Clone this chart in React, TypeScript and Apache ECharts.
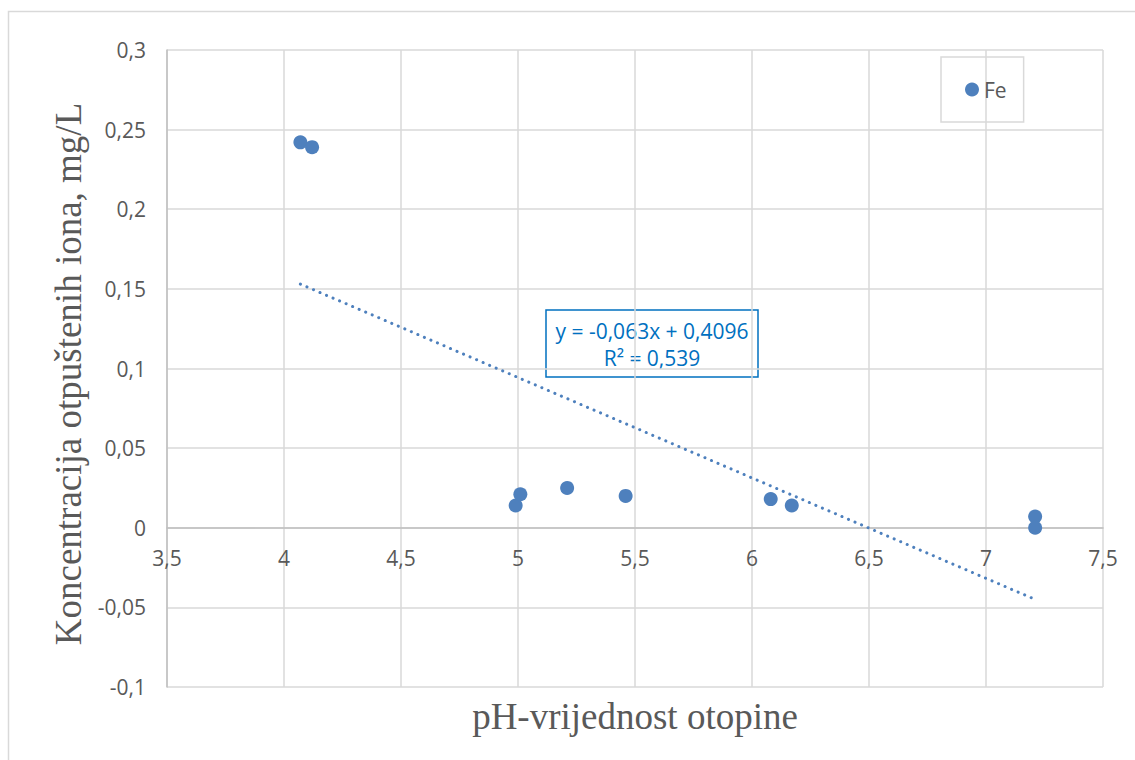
import React, { useEffect, useRef } from "react";
import * as echarts from "echarts";

// pH values and Fe concentrations (mg/L)
const phValues = [4.07, 4.12, 4.99, 5.01, 5.21, 5.46, 6.08, 6.17, 7.21, 7.21];
const feValues = [0.242, 0.239, 0.014, 0.021, 0.025, 0.02, 0.018, 0.014, 0.007, 0.0];
// linear trend line endpoints
const trendX = [4.07, 7.21];
const trendY = [0.153, -0.045];
const equationLines = ["y = -0,063x + 0,4096", "R² = 0,539"];
const seriesName = "Fe";
const xTitle = "pH-vrijednost otopine";
const yTitle = "Koncentracija otpuštenih iona, mg/L";

const Y_MIN = -0.1;
const Y_MAX = 0.3;

const BLUE = "#4E80BD";
const LABEL = "#595959";
const GRID = "#D9D9D9";
const EQ = "#0070C0";

const GRID_TOP = 50;
const GRID_BOTTOM = 73;
const CHART_H = 760;

const fmt = (v: number) => String(+v.toFixed(2)).replace(".", ",");

export default function App() {
  const ref = useRef<HTMLDivElement>(null);
  useEffect(() => {
    if (!ref.current) return;
    const chart = echarts.init(ref.current, null, { renderer: "svg" });
    const plotH = CHART_H - GRID_TOP - GRID_BOTTOM;
    // move the x axis up so that it crosses the y axis at 0
    const zeroOffset = -((0 - Y_MIN) / (Y_MAX - Y_MIN)) * plotH;
    chart.setOption({
      animation: false,
      backgroundColor: "#ffffff",
      grid: { left: 167, right: 32, top: GRID_TOP, bottom: GRID_BOTTOM, containLabel: false, outerBoundsMode: "none" },
      legend: {
        data: [seriesName],
        left: 941,
        top: 57,
        orient: "vertical",
        padding: [22, 17, 22, 24],
        borderColor: GRID,
        borderWidth: 1.5,
        icon: "circle",
        itemWidth: 14,
        itemHeight: 14,
        itemGap: 5,
        textStyle: { color: LABEL, fontSize: 21, fontFamily: "Open Sans" },
      },
      xAxis: {
        type: "value",
        min: 3.5,
        max: 7.5,
        interval: 0.5,
        position: "bottom",
        offset: zeroOffset,
        axisLine: { show: true, onZero: false, lineStyle: { color: "#BFBFBF", width: 1.5 } },
        axisTick: { show: false },
        axisLabel: { color: LABEL, fontSize: 21, fontFamily: "Open Sans", margin: 20, formatter: fmt },
        splitLine: { show: true, lineStyle: { color: GRID, width: 1.5 } },
      },
      yAxis: {
        type: "value",
        min: Y_MIN,
        max: Y_MAX,
        interval: 0.05,
        axisLine: { show: true, onZero: false, lineStyle: { color: "#BFBFBF", width: 1.5 } },
        axisTick: { show: false },
        axisLabel: { color: LABEL, fontSize: 21, fontFamily: "Open Sans", margin: 21, formatter: fmt },
        splitLine: { show: true, lineStyle: { color: GRID, width: 1.5 } },
      },
      series: [
        {
          name: "trend",
          type: "line",
          data: trendX.map((x, i) => [x, trendY[i]]),
          showSymbol: false,
          symbol: "none",
          lineStyle: { color: BLUE, width: 3, type: [0.1, 7], cap: "round" },
          z: 2,
          silent: true,
        },
        {
          name: seriesName,
          type: "scatter",
          data: phValues.map((x, i) => [x, feValues[i]]),
          symbolSize: 14,
          itemStyle: { color: BLUE, opacity: 1 },
          z: 3,
        },
      ],
      graphic: [
        {
          type: "rect",
          shape: { x: 8.5, y: 11.5, width: 1200, height: 800 },
          style: { fill: "none", stroke: GRID, lineWidth: 1.5 },
          silent: true,
          z: 0,
        },
        {
          type: "group",
          z: 10,
          children: [
            {
              type: "rect",
              shape: { x: 546, y: 310, width: 212, height: 67 },
              style: { fill: "#ffffff", stroke: EQ, lineWidth: 1.5 },
            },
            {
              type: "text",
              x: 652,
              y: 331,
              style: {
                text: equationLines[0],
                fill: EQ,
                font: '21px "Open Sans"',
                align: "center",
                verticalAlign: "middle",
                textAlign: "center",
                textVerticalAlign: "middle",
              },
            },
            {
              type: "text",
              x: 652,
              y: 358,
              style: {
                text: equationLines[1],
                fill: EQ,
                font: '21px "Open Sans"',
                align: "center",
                verticalAlign: "middle",
                textAlign: "center",
                textVerticalAlign: "middle",
              },
            },
          ],
        },
        {
          type: "text",
          x: 635,
          y: 716,
          style: {
            text: xTitle,
            fill: LABEL,
            font: '37px "Liberation Serif"',
            align: "center",
            verticalAlign: "middle",
            textAlign: "center",
            textVerticalAlign: "middle",
          },
        },
        {
          type: "text",
          x: 68,
          y: 374,
          rotation: Math.PI / 2,
          style: {
            text: yTitle,
            fill: LABEL,
            font: '37px "Liberation Serif"',
            align: "center",
            verticalAlign: "middle",
            textAlign: "center",
            textVerticalAlign: "middle",
          },
        },
      ],
    });
    return () => chart.dispose();
  }, []);
  return (
    <div
      ref={ref}
      style={{ position: "fixed", left: 0, top: 0, width: 1135, height: 760, background: "#fff" }}
    />
  );
}
